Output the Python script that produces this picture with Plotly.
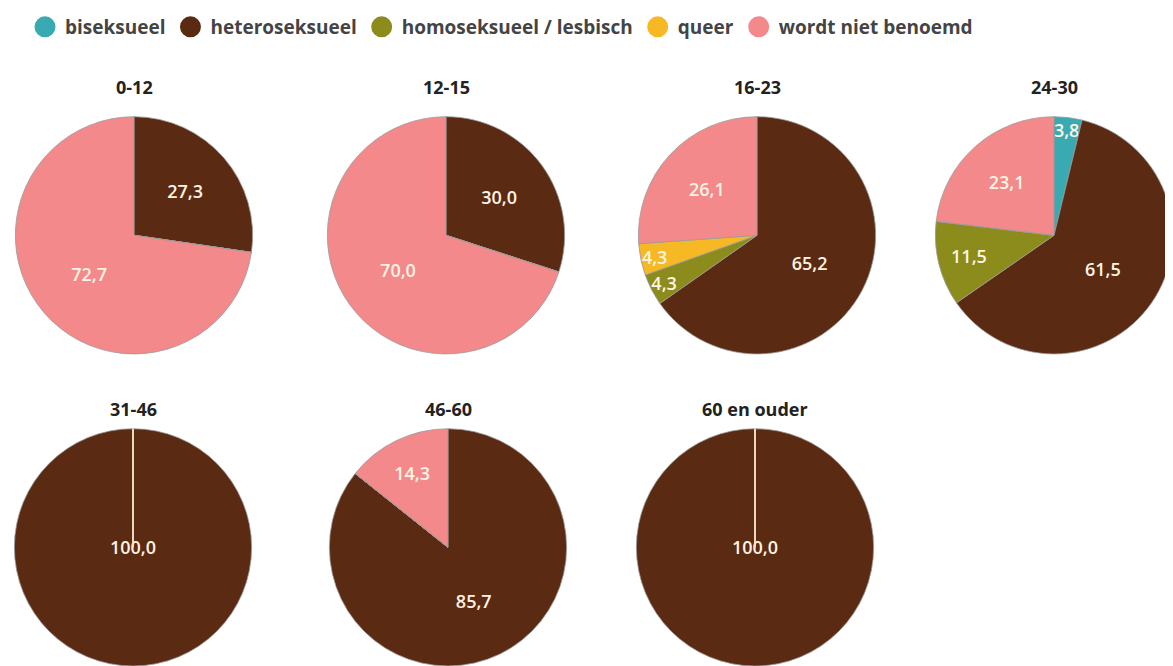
import plotly.graph_objects as go

# categories and colours
categories = ["biseksueel", "heteroseksueel", "homoseksueel / lesbisch", "queer", "wordt niet benoemd"]
colors = ["#3aaab2", "#5b2a12", "#8c8c1c", "#f7b825", "#f3898a"]

# age groups and percentages (same order as categories)
groups = ["0-12", "12-15", "16-23", "24-30", "31-46", "46-60", "60 en ouder"]
v_0_12 = [0, 27.3, 0, 0, 72.7]
v_12_15 = [0, 30.0, 0, 0, 70.0]
v_16_23 = [0, 65.2, 4.3, 4.3, 26.1]
v_24_30 = [3.8, 61.5, 11.5, 0, 23.1]
v_31_46 = [0, 100.0, 0, 0, 0]
v_46_60 = [0, 85.7, 0, 0, 14.3]
v_60_plus = [0, 100.0, 0, 0, 0]
values = [v_0_12, v_12_15, v_16_23, v_24_30, v_31_46, v_46_60, v_60_plus]

# layout in page pixels; the page body adds an 8px margin
OFF = 8
W, H = 1173 - OFF, 666 - OFF
R = 119
centers = [(134, 234), (446, 234), (757, 234), (1054, 234),
           (133, 547), (448, 547), (755, 547)]
title_y = [85, 85, 85, 85, 408, 408, 408]


def px(x):
    return (x - OFF) / W


def py(y):
    return 1 - (y - OFF) / H


fig = go.Figure()

for name, vals, (cx, cy) in zip(groups, values, centers):
    labels_txt = [f"{v:.1f}".replace(".", ",") if v > 0 else "" for v in vals]
    # a pie with one full slice shows a light seam at 12 o'clock
    full = max(vals) >= 100
    edges = ["#f3e2c8" if (full and v == 0) else "#9a9a9a" for v in vals]
    fig.add_trace(go.Pie(
        labels=categories, values=vals, name=name, text=labels_txt,
        sort=False, direction="clockwise", rotation=0,
        marker=dict(colors=colors, line=dict(color=edges, width=0.8)),
        textinfo="text", textposition="inside",
        insidetextorientation="horizontal",
        textfont=dict(color="#fff4e4", size=18, family="Open Sans", weight=600),
        domain=dict(x=[px(cx - R), px(cx + R)], y=[py(cy + R), py(cy - R)]),
        showlegend=False, hoverinfo="label+value",
    ))

# legend entries as round markers
for cat, col in zip(categories, colors):
    fig.add_trace(go.Scatter(x=[None], y=[None], mode="markers", name=cat,
                             marker=dict(color=col, size=20, symbol="circle",
                                         line=dict(color=col, width=5))))

for name, (cx, cy), ty in zip(groups, centers, title_y):
    fig.add_annotation(text=f"<b>{name}</b>", x=px(cx), y=py(ty), xref="paper", yref="paper",
                       xanchor="center", yanchor="middle", showarrow=False,
                       font=dict(size=18, color="#222222", family="Open Sans"))

fig.update_layout(
    width=W, height=H, margin=dict(l=0, r=0, t=0, b=0),
    paper_bgcolor="white", plot_bgcolor="white",
    uniformtext=dict(minsize=16, mode="show"),
    xaxis=dict(visible=False), yaxis=dict(visible=False),
    legend=dict(orientation="h", x=px(25), y=py(25), yanchor="middle", xanchor="left",
                font=dict(size=19, color="#444444", family="Open Sans", weight=700),
                itemclick=False),
)

fig.write_html("out.html")
